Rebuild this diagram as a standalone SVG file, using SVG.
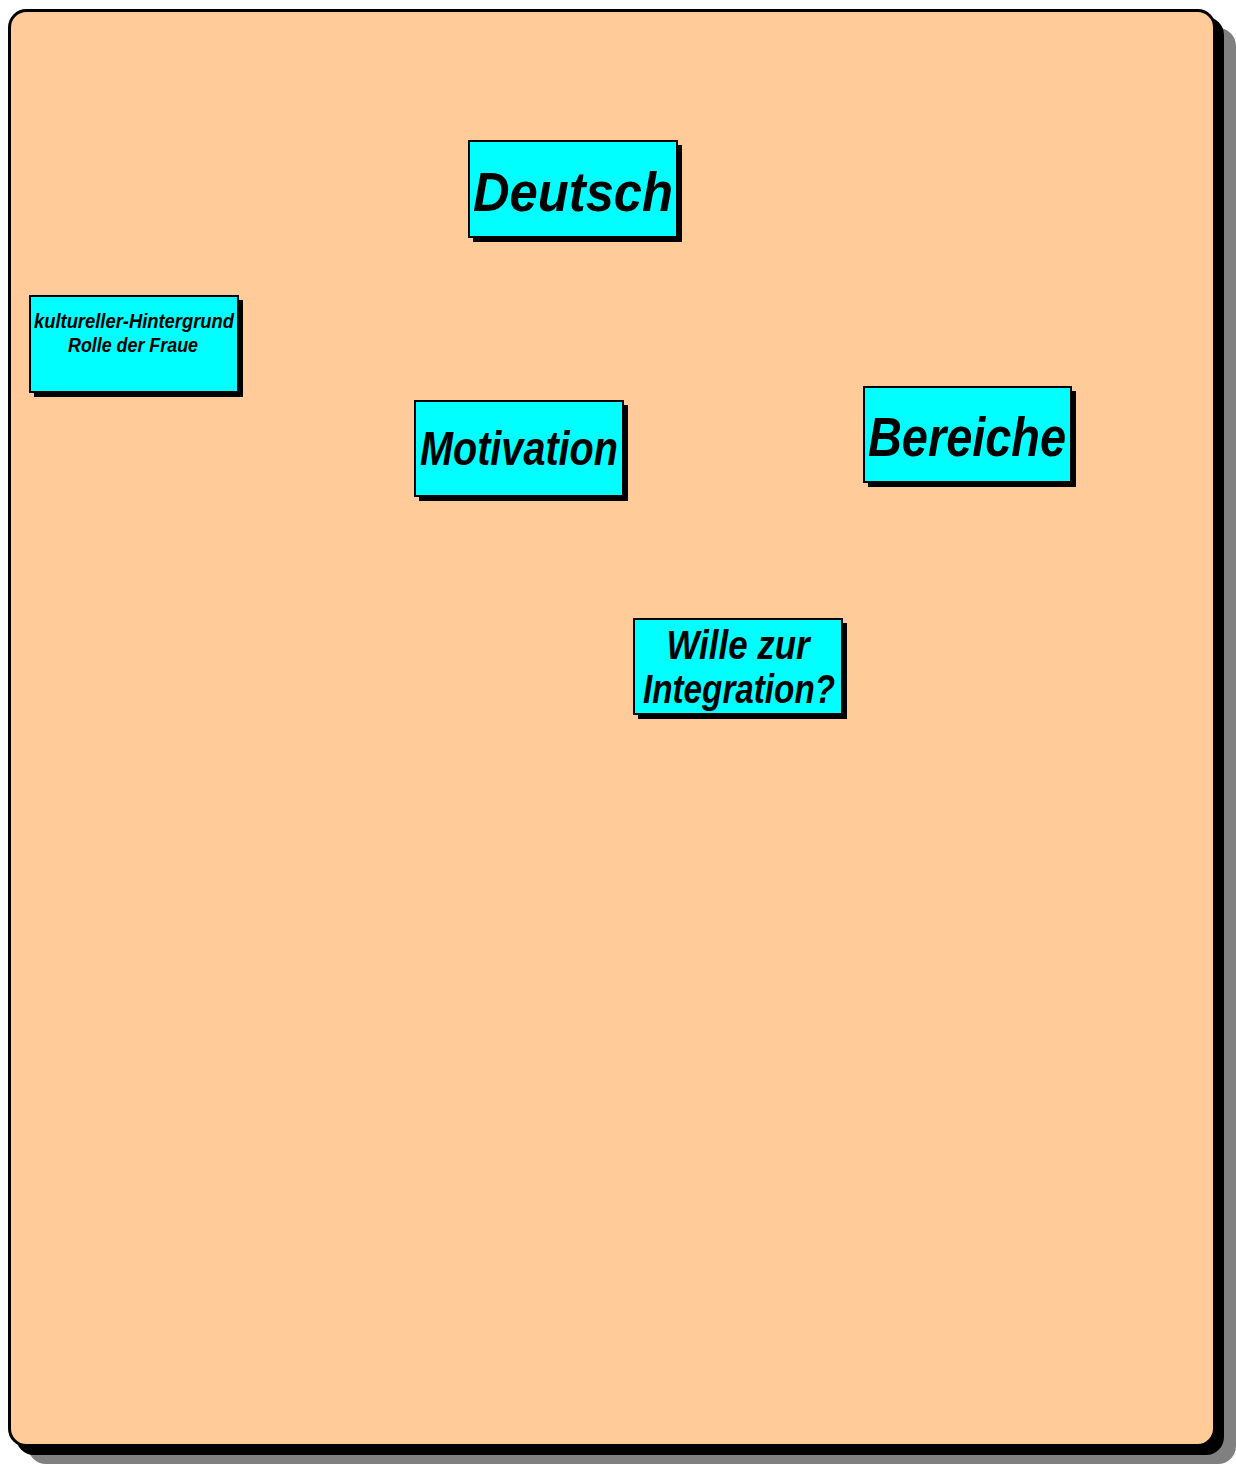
<svg xmlns="http://www.w3.org/2000/svg" width="1236" height="1464" viewBox="0 0 1236 1464">
<style>
.box{fill:#00ffff;stroke:#000;stroke-width:2}
.sh{fill:#000}
.t{font-family:"Liberation Sans",Arial,sans-serif;font-style:italic;font-weight:bold;fill:#000;text-anchor:middle}
</style>
<rect x="28" y="28" width="1208" height="1436" rx="18" fill="#808080"/>
<rect x="16" y="17" width="1208" height="1438" rx="18" fill="#000"/>
<rect x="9.5" y="10.5" width="1205" height="1435" rx="17" fill="#ffcc99" stroke="#000" stroke-width="3"/>
<g id="connectors"></g>
<g id="node-deutsch">
<rect class="sh" x="473" y="145" width="209" height="97"/>
<rect class="box" x="469" y="141" width="208" height="96"/>
<text class="t" x="573" y="211" font-size="56" textLength="200" lengthAdjust="spacingAndGlyphs">Deutsch</text>
</g>
<g id="node-kultur">
<rect class="sh" x="34" y="300" width="209" height="97"/>
<rect class="box" x="30" y="296" width="208" height="96"/>
<text class="t" x="134" y="328" font-size="20" textLength="200" lengthAdjust="spacingAndGlyphs">kultureller-Hintergrund</text>
<text class="t" x="133" y="352" font-size="20" textLength="130" lengthAdjust="spacingAndGlyphs">Rolle der Fraue</text>
</g>
<g id="node-motivation">
<rect class="sh" x="419" y="405" width="209" height="96"/>
<rect class="box" x="415" y="401" width="208" height="95"/>
<text class="t" x="519" y="465" font-size="48" textLength="198" lengthAdjust="spacingAndGlyphs">Motivation</text>
</g>
<g id="node-bereiche">
<rect class="sh" x="868" y="391" width="208" height="96"/>
<rect class="box" x="864" y="387" width="207" height="95"/>
<text class="t" x="967" y="456" font-size="56" textLength="198" lengthAdjust="spacingAndGlyphs">Bereiche</text>
</g>
<g id="node-wille">
<rect class="sh" x="638" y="623" width="209" height="96"/>
<rect class="box" x="634" y="619" width="208" height="95"/>
<text class="t" x="738" y="659" font-size="40" textLength="143" lengthAdjust="spacingAndGlyphs">Wille zur</text>
<text class="t" x="739" y="703" font-size="40" textLength="192" lengthAdjust="spacingAndGlyphs">Integration?</text>
</g>
</svg>
